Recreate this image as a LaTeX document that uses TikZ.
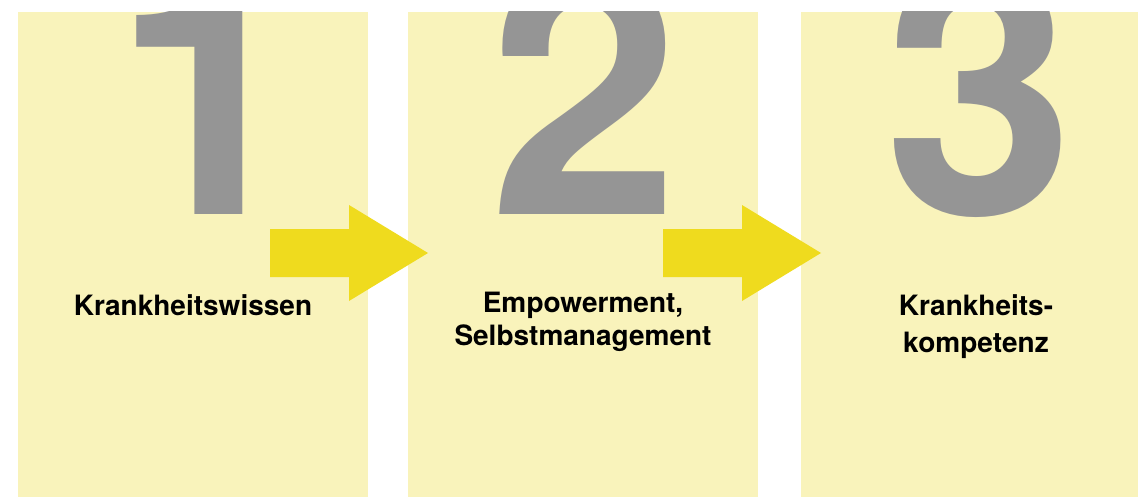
\documentclass[tikz,border=0pt]{standalone}
\usepackage{fontspec}
\setmainfont{TeX Gyre Heros}
\definecolor{panelfill}{RGB}{249,243,187}
\definecolor{arrowfill}{RGB}{239,219,30}
\definecolor{digitgray}{RGB}{149,149,149}
\tikzset{
  panelbox/.style={fill=panelfill, draw=none, inner sep=0pt, outer sep=0pt,
    minimum width=175pt, minimum height=242.5pt},
  bignum/.style={text=digitgray, inner sep=0pt, anchor=base,
    font=\fontsize{171}{171}\selectfont\bfseries},
  label/.style={text=black, inner sep=0pt, anchor=base, align=center,
    font=\fontsize{14}{18.5}\selectfont\bfseries},
  bigarrow/.pic={\fill[arrowfill] (0,-24) -- (79,-24) -- (79,-48) -- (158,0)
    -- (79,48) -- (79,24) -- (0,24) -- cycle;}
}
\begin{document}
\begin{tikzpicture}[x=0.5pt,y=-0.5pt]
\clip (0,0) rectangle (1138,497);
\useasboundingbox (0,0) rectangle (1138,497);
\fill[white] (0,0) rectangle (1138,497);
% panels
\node[panelbox] (p1) at (193,254.5) {};
\node[panelbox] (p2) at (583,254.5) {};
\node[panelbox] (p3) at (976,254.5) {};
% digits
\begin{scope}
  \clip (p1.south west) rectangle (p1.north east);
  \node[bignum] (d1) at (209,214) {1};
\end{scope}
\begin{scope}
  \clip (p2.south west) rectangle (p2.north east);
  \node[bignum] (d2) at (585,214) {2};
\end{scope}
\begin{scope}
  \clip (p3.south west) rectangle (p3.north east);
  \node[bignum] (d3) at (980,214) {3};
\end{scope}
% arrows
\coordinate (a1) at (270,253);
\coordinate (a2) at (663,253);
\pic at (a1) {bigarrow};
\pic at (a2) {bigarrow};
% labels
\node[label] (t1) at (193,315) {Krankheitswissen};
\node[label, font=\fontsize{14}{16.5}\selectfont\bfseries] (t2) at (583,345) {Empowerment,\\Selbstmanagement};
\node[label] (t3) at (976,352) {Krankheits-\\kompetenz};
\end{tikzpicture}
\end{document}
